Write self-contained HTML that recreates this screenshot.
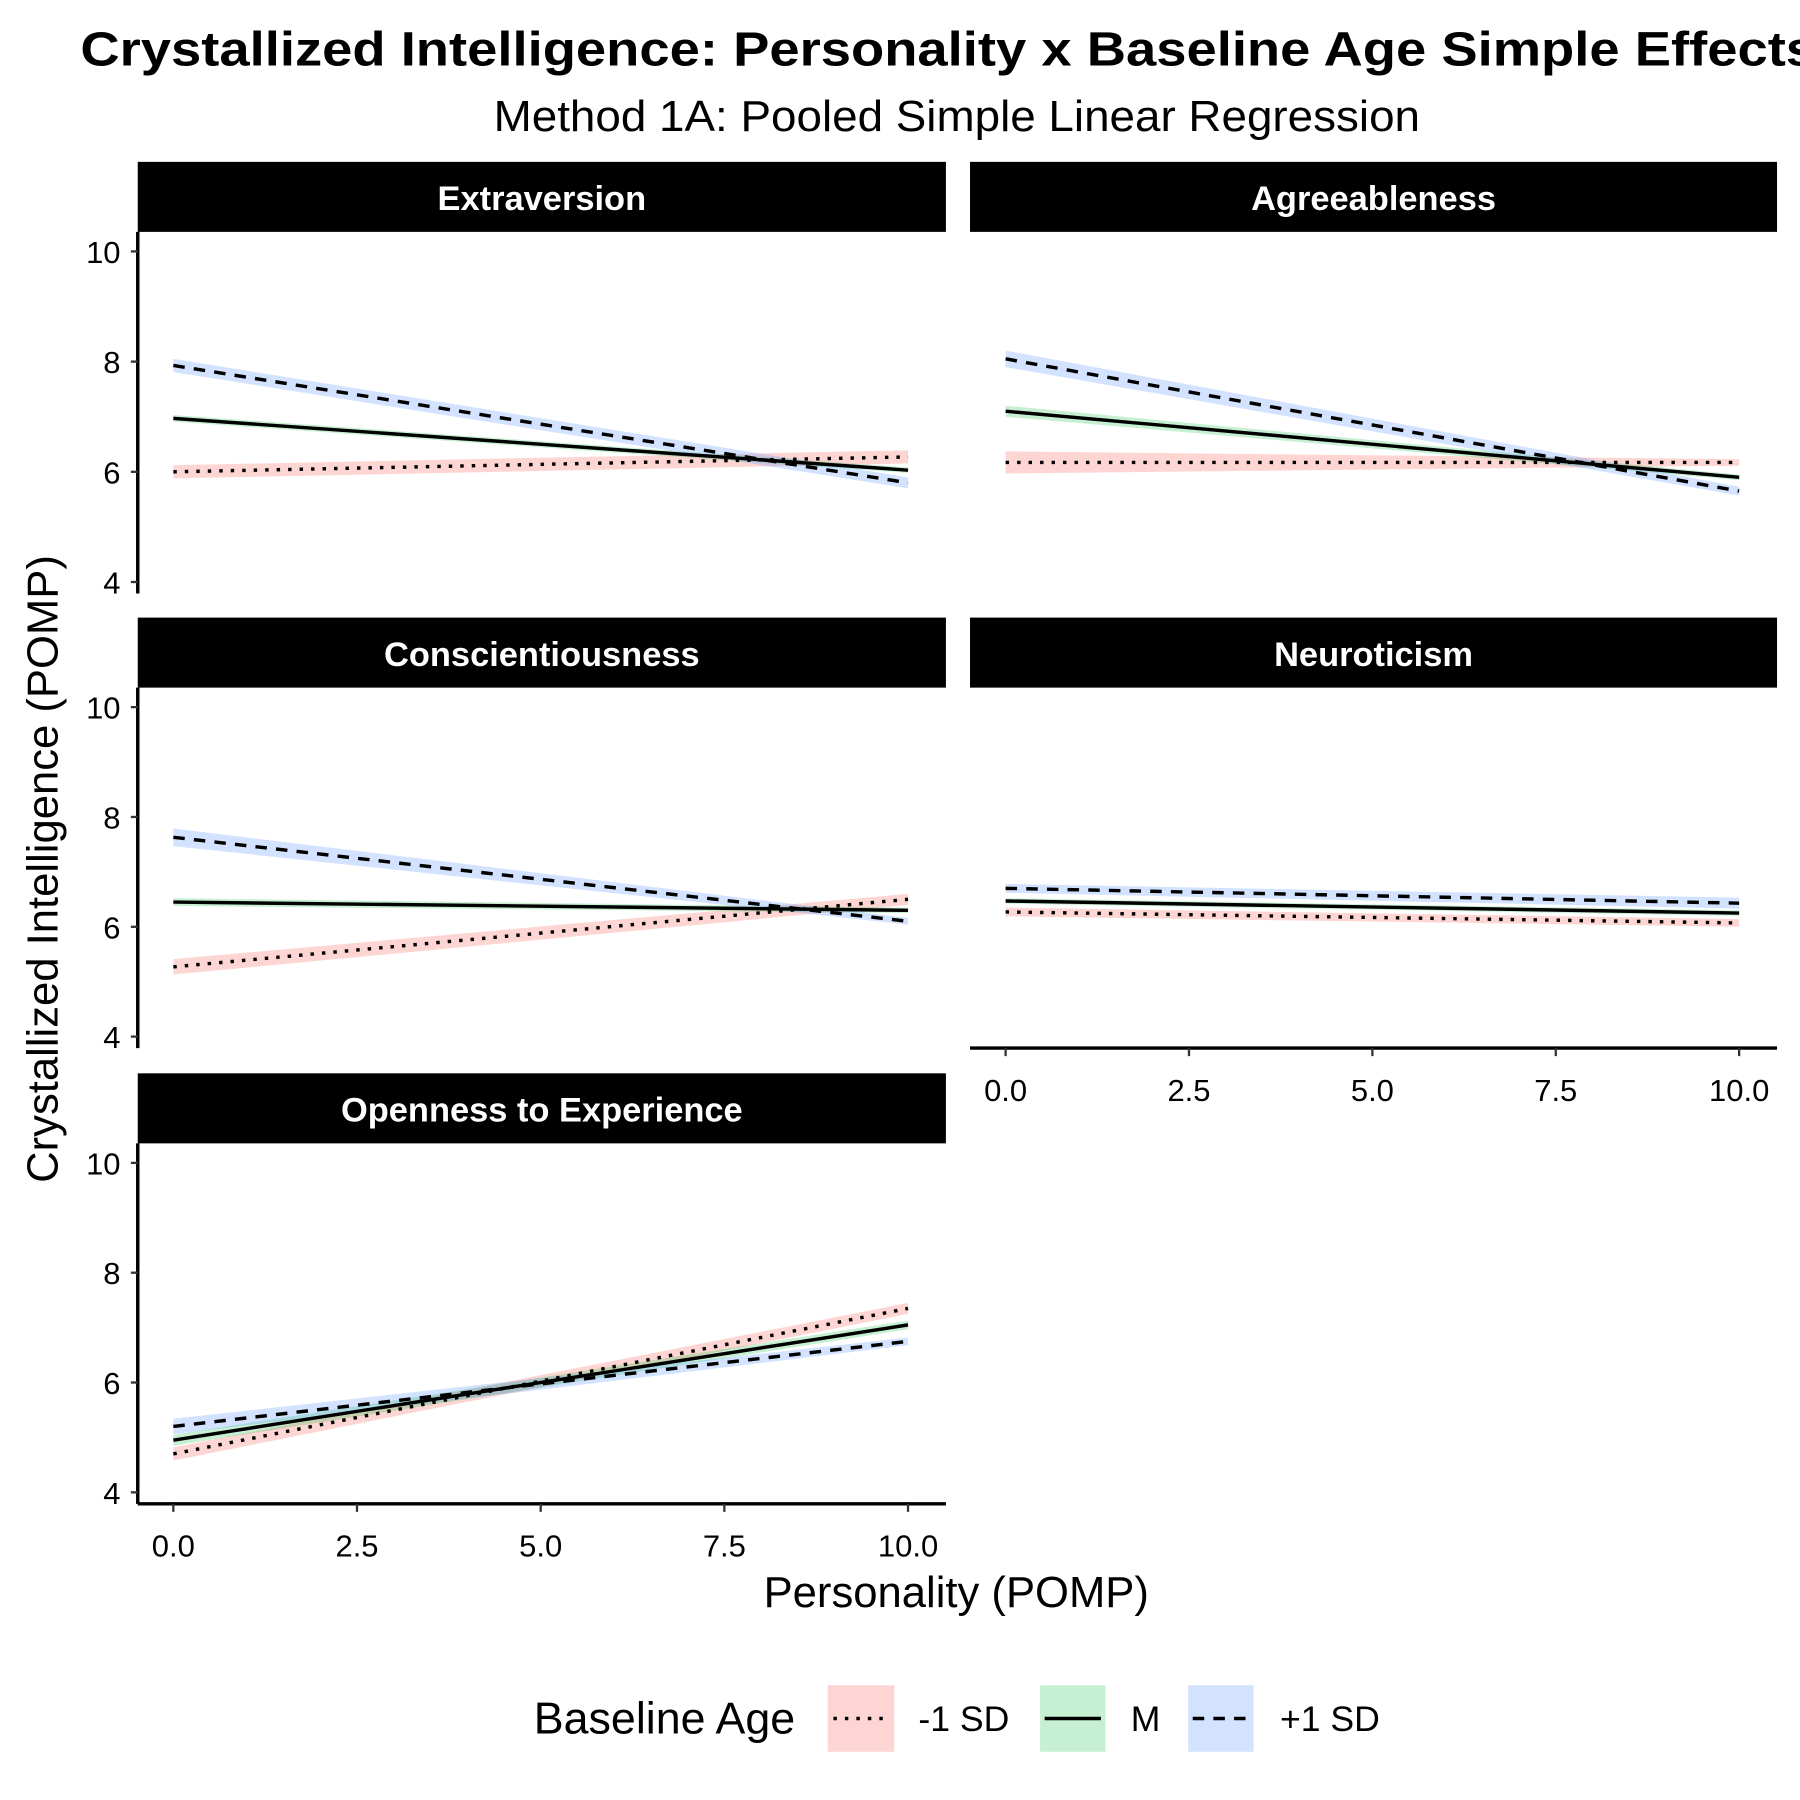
<!DOCTYPE html>
<html><head><meta charset="utf-8"><style>
html,body{margin:0;padding:0;background:#fff;}
svg{display:block;font-family:"Liberation Sans",sans-serif;}
</style></head><body>
<svg id="chart" width="1800" height="1800" viewBox="0 0 1568 1568" xmlns="http://www.w3.org/2000/svg">
<text x="70" y="57" font-size="42" font-weight="bold" textLength="1512" lengthAdjust="spacingAndGlyphs">Crystallized Intelligence: Personality x Baseline Age Simple Effects</text>
<text x="430" y="114" font-size="38" textLength="807" lengthAdjust="spacingAndGlyphs">Method 1A: Pooled Simple Linear Regression</text>
<text transform="translate(50,757) rotate(-90)" font-size="38" text-anchor="middle">Crystallized Intelligence (POMP)</text>
<text x="833" y="1400" font-size="38" text-anchor="middle">Personality (POMP)</text>
<g id="plots"></g>
<g>
<text x="465" y="1510" font-size="39">Baseline Age</text>
<rect x="721" y="1468" width="58" height="58" fill="#F8766D" fill-opacity="0.3"/>
<line x1="726" y1="1497" x2="774" y2="1497" stroke="#000" stroke-width="3" stroke-dasharray="3,7"/>
<text x="800" y="1508" font-size="31">-1 SD</text>
<rect x="906" y="1468" width="57" height="58" fill="#00BA38" fill-opacity="0.22"/>
<line x1="910" y1="1497" x2="959" y2="1497" stroke="#000" stroke-width="3"/>
<text x="985" y="1508" font-size="31">M</text>
<rect x="1035" y="1468" width="57" height="58" fill="#619CFF" fill-opacity="0.28"/>
<line x1="1039" y1="1497" x2="1088" y2="1497" stroke="#000" stroke-width="3" stroke-dasharray="10,8"/>
<text x="1115" y="1508" font-size="31">+1 SD</text>
</g>
</svg>
<script>
const panels = ["Extraversion","Agreeableness","Conscientiousness","Neuroticism","Openness to Experience"];
const groups = ["-1 SD","M","+1 SD"];
// values at personality 0 and 10 per panel, per group
const startVals = [[6.0,6.97,7.93],[6.17,7.1,8.05],[5.27,6.45,7.63],[6.27,6.47,6.7],[4.7,4.95,5.2]];
const endVals   = [[6.27,6.03,5.8],[6.17,5.9,5.65],[6.5,6.3,6.1],[6.07,6.25,6.43],[7.35,7.05,6.75]];
const seStart   = [[0.12,0.06,0.12],[0.2,0.1,0.15],[0.14,0.07,0.16],[0.08,0.05,0.08],[0.12,0.1,0.14]];
const seEnd     = [[0.12,0.05,0.1],[0.06,0.05,0.08],[0.1,0.05,0.06],[0.07,0.05,0.1],[0.1,0.08,0.07]];
const yTicks = [4,6,8,10];
const xTicks = ["0.0","2.5","5.0","7.5","10.0"];
const xTickVals = [0,2.5,5,7.5,10];
const fills = ["#F8766D","#00BA38","#619CFF"];
const opac = [0.3,0.22,0.28];
const dashes = ["3,7","","10,8"];
const NS="http://www.w3.org/2000/svg";
const root=document.getElementById('plots');
function mk(t,a,p){const e=document.createElementNS(NS,t);for(const k in a)e.setAttribute(k,a[k]);(p||root).appendChild(e);return e;}
const cols=[[120,824],[845,1548]];
const rows=[[141,202,517],[538,599,913],[935,996,1310]];
panels.forEach((name,i)=>{
  const c=i%2, r=Math.floor(i/2);
  const [x0,x1]=cols[c]; const [st,pt,pb]=rows[r];
  const xz = c===0?151:876, xt = c===0?791:1515;
  const X=v=>xz+(xt-xz)*v/10;
  const y10=pt+17, y4=pb-10;
  const Y=v=>y4-(v-4)*(y4-y10)/6;
  const g=mk('g',{});
  
  
  const strip=mk('rect',{x:x0,y:st,width:x1-x0,height:pt-st,fill:'#000'},g);
  
  
  const lab=mk('text',{x:(x0+x1)/2,y:st+42,fill:'#fff','font-size':30,'font-weight':'bold','text-anchor':'middle'},g);
  lab.textContent=name;
  
  
  groups.forEach((gr,k)=>{
    const a=startVals[i][k], b=endVals[i][k], s0=seStart[i][k], s1=seEnd[i][k];
    const band=mk('polygon',{points:`${X(0)},${Y(a+s0)} ${X(10)},${Y(b+s1)} ${X(10)},${Y(b-s1)} ${X(0)},${Y(a-s0)}`,fill:fills[k],'fill-opacity':opac[k]},g);
    
    
  });
  groups.forEach((gr,k)=>{
    const a=startVals[i][k], b=endVals[i][k];
    const ln=mk('line',{x1:X(0),y1:Y(a),x2:X(10),y2:Y(b),stroke:'#000','stroke-width':3},g);
    if(dashes[k])ln.setAttribute('stroke-dasharray',dashes[k]);
    
    
  });
  if(c===0){
    const ax=mk('line',{x1:x0,y1:pt,x2:x0,y2:pb,stroke:'#000','stroke-width':3},g);
    
    
    yTicks.forEach(t=>{
      mk('line',{x1:x0-6,y1:Y(t),x2:x0,y2:Y(t),stroke:'#333','stroke-width':2},g);
      const tl=mk('text',{x:x0-15,y:Y(t)+10,'font-size':27,'text-anchor':'end'},g);
      tl.textContent=t;
      
      
    });
  }
  if(i>=3){
    const ax=mk('line',{x1:x0,y1:pb,x2:x1,y2:pb,stroke:'#000','stroke-width':3},g);
    
    
    xTickVals.forEach((t,j)=>{
      mk('line',{x1:X(t),y1:pb,x2:X(t),y2:pb+7,stroke:'#333','stroke-width':2},g);
      const tl=mk('text',{x:X(t),y:pb+46,'font-size':27,'text-anchor':'middle'},g);
      tl.textContent=xTicks[j];
      
      
    });
  }
});
</script>
</body></html>
